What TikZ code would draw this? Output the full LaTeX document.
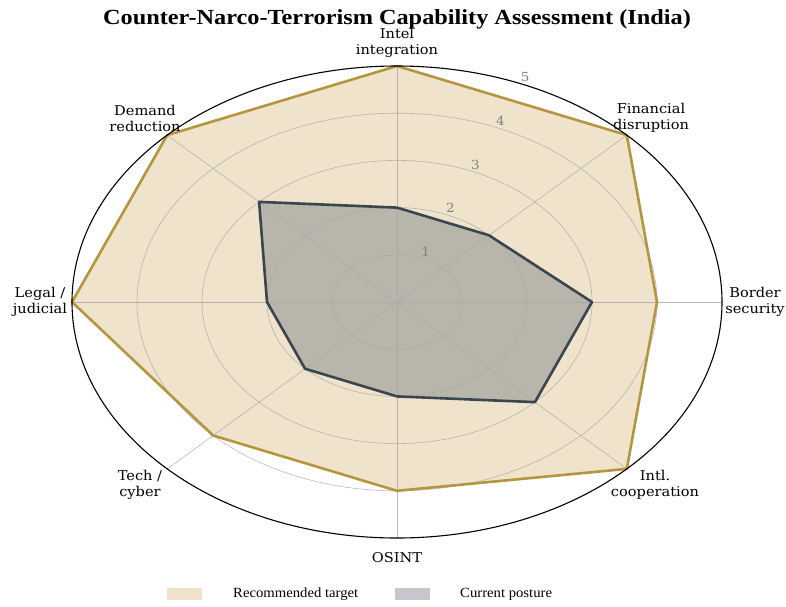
\documentclass[tikz,border=0pt]{standalone}
\usepackage{fontspec}
\setmainfont[FakeStretch=1.08]{DejaVu Serif}
\newfontfamily\titlefont[FakeStretch=1.13]{Liberation Serif}
\newfontfamily\legendfont[FakeStretch=1.05]{Liberation Serif}
\definecolor{targetfill}{HTML}{EFE3CC}
\definecolor{targetedge}{HTML}{B59540}
\definecolor{postfill}{HTML}{B8B5AA}
\definecolor{postedge}{HTML}{3A4550}
\definecolor{postkey}{HTML}{C5C7CD}
\definecolor{gridgray}{HTML}{A8A8A8}
\definecolor{tickgray}{HTML}{808080}
\tikzset{
  axlabel/.style={align=center,inner sep=0pt,font=\fontsize{13.5}{16}\selectfont},
  ticklabel/.style={inner sep=0pt,text=tickgray,font=\fontsize{12.5}{14}\selectfont},
  gridline/.style={draw=gridgray,line width=.6pt,opacity=.8},
  keybox/.style={inner sep=0pt,minimum width=35pt,minimum height=12pt}
}
\begin{document}
\begin{tikzpicture}[x=1pt,y=-1pt,line join=round]
  \useasboundingbox (0,0) rectangle (786,606);
  \coordinate (o) at (397,302);

  % spoke ends and polygon corners (clockwise from top)
  \foreach \n/\a/\t/\c in {1/90/5/2, 2/45/5/2, 3/0/4/3, 4/-45/5/3,
                           5/-90/4/2, 6/-135/4/2, 7/180/5/2, 8/135/5/3} {
    \coordinate (s\n) at ({397+325*cos(\a)},{302-236*sin(\a)});
    \coordinate (t\n) at ({397+65*\t*cos(\a)},{302-47.2*\t*sin(\a)});
    \coordinate (c\n) at ({397+65*\c*cos(\a)},{302-47.2*\c*sin(\a)});
  }

  % fills
  \fill[targetfill] (t1) -- (t2) -- (t3) -- (t4) -- (t5) -- (t6) -- (t7) -- (t8) -- cycle;
  \fill[postfill] (c1) -- (c2) -- (c3) -- (c4) -- (c5) -- (c6) -- (c7) -- (c8) -- cycle;

  % grid
  \foreach \r in {1,...,4}
    \draw[gridline] (o) ellipse [x radius={65*\r pt}, y radius={47.2*\r pt}];
  \foreach \n in {1,...,8}
    \draw[gridline] (o) -- (s\n);

  % outlines
  \draw[targetedge,line width=2.6pt] (t1) -- (t2) -- (t3) -- (t4) -- (t5) -- (t6) -- (t7) -- (t8) -- cycle;
  \draw[postedge,line width=2.6pt] (c1) -- (c2) -- (c3) -- (c4) -- (c5) -- (c6) -- (c7) -- (c8) -- cycle;
  \draw[black,line width=1.1pt] (o) ellipse [x radius=325pt, y radius=236pt];

  % radial ticks
  \foreach \r in {1,...,5}
    \path ({397+24.9*(\r+.15)},{302-43.6*(\r+.15)}) node[ticklabel] (tick\r) {\r};

  % spoke labels
  \path (397,19) node[inner sep=0pt,font=\titlefont\bfseries\fontsize{21.5}{24}\selectfont] (title)
    {Counter-Narco-Terrorism Capability Assessment (India)};
  \path (397,43)  node[axlabel] (intel)  {Intel\\integration};
  \path (651,118) node[axlabel] (fin)    {Financial\\disruption};
  \path (755,302) node[axlabel] (border) {Border\\security};
  \path (655,485) node[axlabel] (coop)   {Intl.\\cooperation};
  \path (397,558) node[axlabel] (osint)  {OSINT};
  \path (140,485) node[axlabel] (tech)   {Tech /\\cyber};
  \path (40,302)  node[axlabel] (legal)  {Legal /\\judicial};
  \path (145,118) node[axlabel] (demand) {Demand\\reduction};

  % legend
  \path (184.5,594) node[keybox,fill=targetfill] (key1) {};
  \path (233,594) node[anchor=west,inner sep=0pt,font=\legendfont\fontsize{14}{16}\selectfont] (key1txt) {Recommended target};
  \path (412.5,594) node[keybox,fill=postkey] (key2) {};
  \path (460,594) node[anchor=west,inner sep=0pt,font=\legendfont\fontsize{14}{16}\selectfont] (key2txt) {Current posture};
\end{tikzpicture}
\end{document}
